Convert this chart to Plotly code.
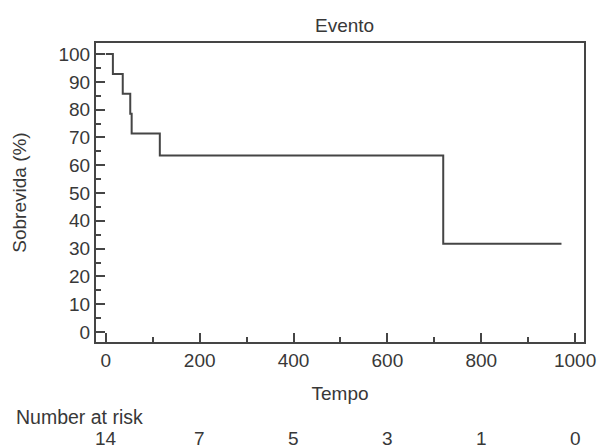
import plotly.graph_objects as go

times = [0, 15, 36, 52, 55, 115, 719, 971]
survival = [100, 92.86, 85.71, 78.57, 71.43, 63.49, 31.75, 31.75]
risk_times = [0, 200, 400, 600, 800, 1000]
at_risk = [14, 7, 5, 3, 1, 0]

LC = "#454545"
TC = "#383838"
FONT = "Liberation Sans, Arial, sans-serif"
FS = 19

fig = go.Figure()
fig.add_trace(go.Scatter(x=times, y=survival, mode="lines", line=dict(shape="hv", color=LC, width=2),
                         showlegend=False, hoverinfo="skip"))

for t, n in zip(risk_times, at_risk):
    fig.add_annotation(x=t, y=-0.322, xref="x", yref="paper", text=str(n), showarrow=False,
                       font=dict(size=FS, color=TC, family=FONT), xanchor="center", yanchor="middle")
fig.add_annotation(x=(13-96)/494, y=-0.251, xref="paper", yref="paper", text="Number at risk", showarrow=False,
                   font=dict(size=19.5, color=TC, family=FONT), xanchor="left", yanchor="middle")
fig.add_annotation(x=(348-96)/494, y=1.06, xref="paper", yref="paper", text="Evento", showarrow=False,
                   font=dict(size=FS, color=TC, family=FONT), xanchor="center", yanchor="middle")

fig.update_layout(
    width=608, height=448,
    margin=dict(l=96, r=18, t=43, b=106),
    paper_bgcolor="white", plot_bgcolor="white",
    font=dict(family=FONT, size=FS, color=TC),
    xaxis=dict(range=[-21, 1019], tickvals=risk_times, showgrid=False, zeroline=False,
               showline=True, mirror=True, linecolor=LC, linewidth=2,
               ticks="inside", ticklen=9, tickwidth=1.5, tickcolor=LC,
               minor=dict(tickvals=[100, 300, 500, 700, 900], ticks="inside", ticklen=5, tickwidth=1.5, tickcolor=LC),
               title=dict(text="Tempo", font=dict(size=FS, color=TC), standoff=17),
               tickfont=dict(size=FS, color=TC)),
    yaxis=dict(range=[-3.6, 104], tickvals=list(range(0, 101, 10)), showgrid=False, zeroline=False,
               showline=True, mirror=True, linecolor=LC, linewidth=2,
               ticks="inside", ticklen=9, tickwidth=1.5, tickcolor=LC,
               minor=dict(tickvals=list(range(5, 100, 10)), ticks="inside", ticklen=5, tickwidth=1.5, tickcolor=LC),
               title=dict(text="Sobrevida (%)", font=dict(size=FS, color=TC), standoff=27),
               tickfont=dict(size=FS, color=TC)),
)

fig.write_html("out.html", config={"displayModeBar": False},
               post_script="document.body.style.margin='0px';document.body.style.overflow='hidden';")
